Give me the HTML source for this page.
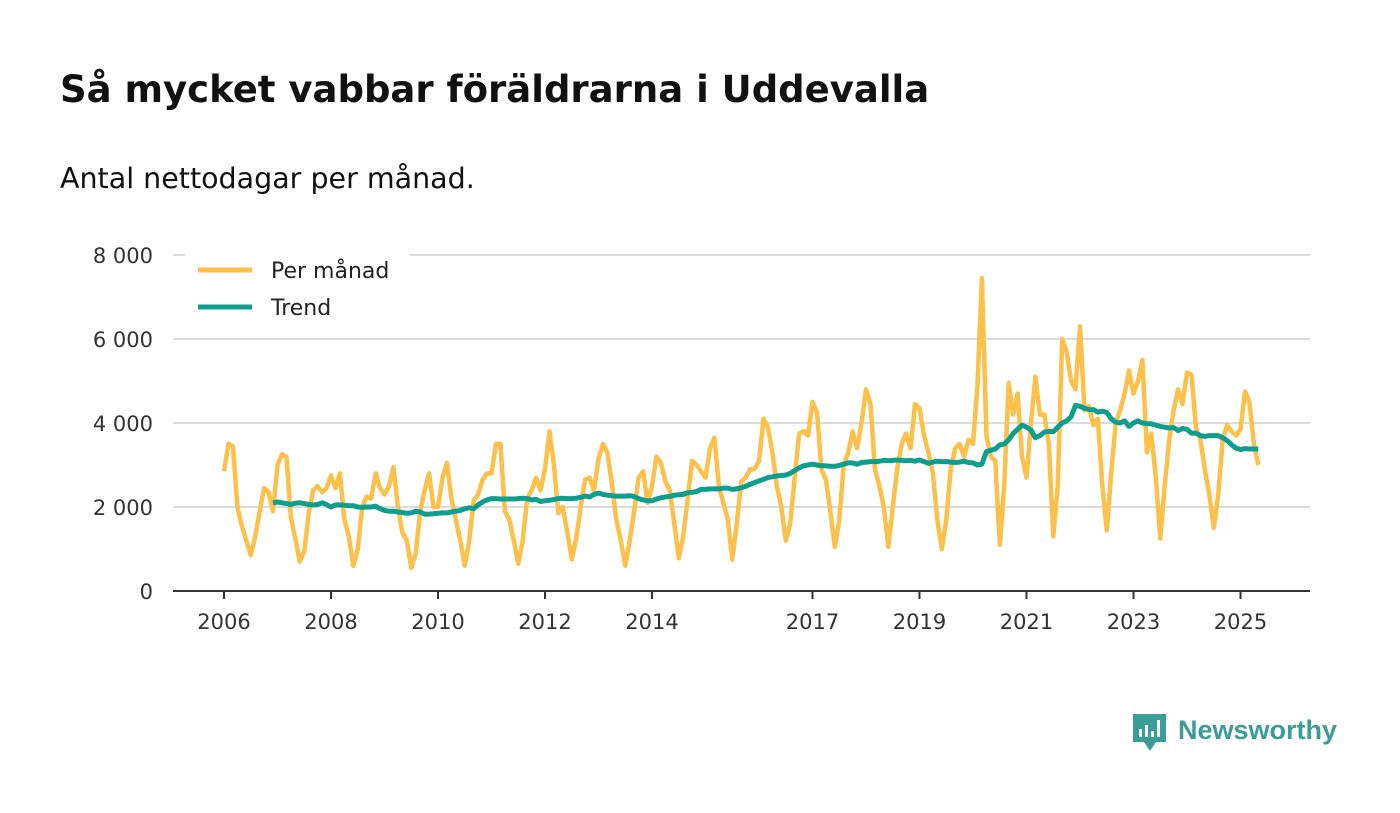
<!DOCTYPE html>
<html><head><meta charset="utf-8"><style>
html,body{margin:0;padding:0;background:#fff;width:1400px;height:813px;overflow:hidden;font-family:"DejaVu Sans","Liberation Sans",sans-serif;}
#title{position:absolute;left:60px;top:68px;font-size:37px;font-weight:bold;color:#111;margin:0;}
#sub{position:absolute;left:60px;top:162px;font-size:28.5px;color:#111;}
svg{position:absolute;left:0;top:0;font-family:"DejaVu Sans","Liberation Sans",sans-serif;}
</style></head><body>
<h1 id="title">Så mycket vabbar föräldrarna i Uddevalla</h1>
<div id="sub">Antal nettodagar per månad.</div>
<svg id="chart" width="1400" height="813"></svg>
<script>
const monthly = [
2850,3500,3450,2000,1550,1200,850,1300,1900,2450,2350,1900,
3000,3250,3200,1750,1250,700,950,1850,2400,2500,2350,2450,
2750,2450,2800,1700,1300,600,1000,2000,2250,2200,2800,2450,
2300,2500,2950,2000,1400,1200,550,900,1900,2400,2800,2000,
2000,2700,3050,2200,1700,1200,600,1200,2150,2300,2650,2800,
2800,3500,3500,1900,1700,1200,650,1200,2200,2400,2700,2400,
2900,3800,3000,1850,2000,1400,750,1250,2000,2650,2700,2400,
3150,3500,3300,2550,1700,1200,600,1200,1900,2700,2850,2100,
2500,3200,3050,2600,2400,1600,780,1300,2200,3100,3000,2850,
2700,3400,3650,2500,2100,1700,750,1600,2600,2700,2900,2900,
3100,4100,3900,3300,2500,2000,1200,1600,2700,3750,3800,3700,
4500,4250,2900,2650,1900,1050,1700,3000,3300,3800,3400,4000,
4800,4450,2900,2500,2000,1050,2000,2900,3500,3750,3400,4450,
4350,3700,3300,2800,1700,1000,1700,2900,3400,3500,3200,3600,
3500,4900,7450,3700,3200,3100,1100,2500,4950,4200,4700,3200,
2700,4000,5100,4200,4200,3500,1300,2500,6000,5700,5000,4800,
6300,4300,4400,3950,4100,2500,1450,2800,4000,4300,4700,5250,
4700,5000,5500,3300,3750,2700,1250,2500,3600,4300,4800,4450,
5200,5150,3900,3600,2900,2300,1500,2300,3600,3950,3800,3700,
3850,4750,4500,3500,3000];
const trend = [
null,null,null,null,null,null,null,null,null,null,null,2100,
2120,2100,2080,2060,2090,2100,2080,2060,2050,2060,2100,2060,
2000,2050,2050,2040,2030,2030,2000,1990,2000,2000,2020,1960,
1920,1900,1900,1880,1870,1850,1860,1900,1880,1830,1830,1840,
1850,1860,1860,1880,1900,1920,1960,1980,1960,2050,2120,2170,
2200,2200,2190,2190,2190,2190,2200,2210,2200,2170,2180,2130,
2150,2160,2180,2200,2210,2200,2200,2210,2230,2260,2240,2300,
2330,2300,2280,2270,2260,2260,2260,2270,2250,2200,2170,2150,
2150,2190,2220,2240,2250,2280,2290,2300,2340,2350,2370,2420,
2420,2430,2430,2430,2450,2450,2420,2430,2460,2490,2540,2580,
2620,2660,2700,2720,2740,2750,2760,2800,2870,2930,2980,3000,
3020,3000,2980,2980,2970,2970,2990,3020,3050,3050,3020,3060,
3070,3080,3080,3090,3110,3100,3110,3120,3110,3100,3110,3090,
3120,3080,3040,3070,3090,3080,3080,3070,3060,3070,3090,3060,
3050,3000,3020,3320,3350,3380,3480,3500,3600,3750,3850,3950,
3900,3830,3650,3700,3780,3800,3790,3900,4000,4050,4150,4420,
4400,4350,4320,4320,4260,4280,4250,4100,4020,4000,4050,3920,
4000,4050,4000,3980,3980,3950,3920,3900,3880,3890,3820,3870,
3850,3760,3760,3700,3680,3700,3700,3700,3650,3580,3480,3400,
3370,3390,3380,3380,3380];
const yTicks = [0,2000,4000,6000,8000];
const yTickLabels = ["0","2 000","4 000","6 000","8 000"];
const xTicks = [2006,2008,2010,2012,2014,2017,2019,2021,2023,2025];

const svg = document.getElementById('chart');
const NS = 'http://www.w3.org/2000/svg';
const X0 = 173, X1 = 1310;
const x = yr => 224 + (yr - 2006) * 53.5;
const xm = i => x(2006 + i / 12);
const y = v => 591 - v * 0.042;
function mk(tag, attrs){const e=document.createElementNS(NS,tag);for(const k in attrs)e.setAttribute(k,attrs[k]);svg.appendChild(e);return e;}

yTicks.forEach((t,i)=>{
  if(t>0){const g=mk('line',{x1:X0,x2:X1,y1:y(t),y2:y(t),stroke:'#dcdcdc','stroke-width':2});
  
  }
  const l=mk('text',{x:153,y:y(t)+8,'text-anchor':'end','font-size':21,fill:'#333'});
  l.textContent=yTickLabels[i];
  
  
});
xTicks.forEach(t=>{
  const tk=mk('line',{x1:x(t),x2:x(t),y1:591,y2:599,stroke:'#333','stroke-width':2});
  
  
  const l=mk('text',{x:x(t),y:629,'text-anchor':'middle','font-size':21,fill:'#333'});
  l.textContent=t;
  
  
});
const ax=mk('line',{x1:X0,x2:X1,y1:591,y2:591,stroke:'#333','stroke-width':2});



function path(arr){let d='';let started=false;arr.forEach((v,i)=>{if(v==null)return;d+=(started?'L':'M')+xm(i).toFixed(1)+','+y(v).toFixed(1);started=true;});return d;}
const p1=mk('path',{d:path(monthly),fill:'none',stroke:'#fdc04a','stroke-width':4.5,'stroke-linejoin':'round'});


const p2=mk('path',{d:path(trend),fill:'none',stroke:'#0e9e8e','stroke-width':5,'stroke-linejoin':'round'});



const legBg=mk('rect',{x:185,y:250,width:225,height:80,fill:'#fff'});


[['Per månad','#fdc04a',270],['Trend','#0e9e8e',307]].forEach(([n,c,yy])=>{
  const ln=mk('line',{x1:198,x2:252,y1:yy,y2:yy,stroke:c,'stroke-width':5});
  
  
  const t=mk('text',{x:271,y:yy+8,'font-size':22,fill:'#222'});
  t.textContent=n;
  
  
});

const logo=mk('g',{});


logo.innerHTML='<path d="M1133 714h33v28h-10l-6 9-6-9h-11z" fill="#3a9e96"/><rect x="1139" y="729" width="3" height="8" fill="#fff"/><rect x="1145" y="725" width="3" height="12" fill="#fff"/><rect x="1151" y="731" width="3" height="6" fill="#fff"/><rect x="1157" y="720" width="3" height="17" fill="#fff"/><text x="1178" y="739" font-size="27" font-weight="bold" fill="#3a9e96" font-family="Liberation Sans, sans-serif">Newsworthy</text>';
</script>
</body></html>
